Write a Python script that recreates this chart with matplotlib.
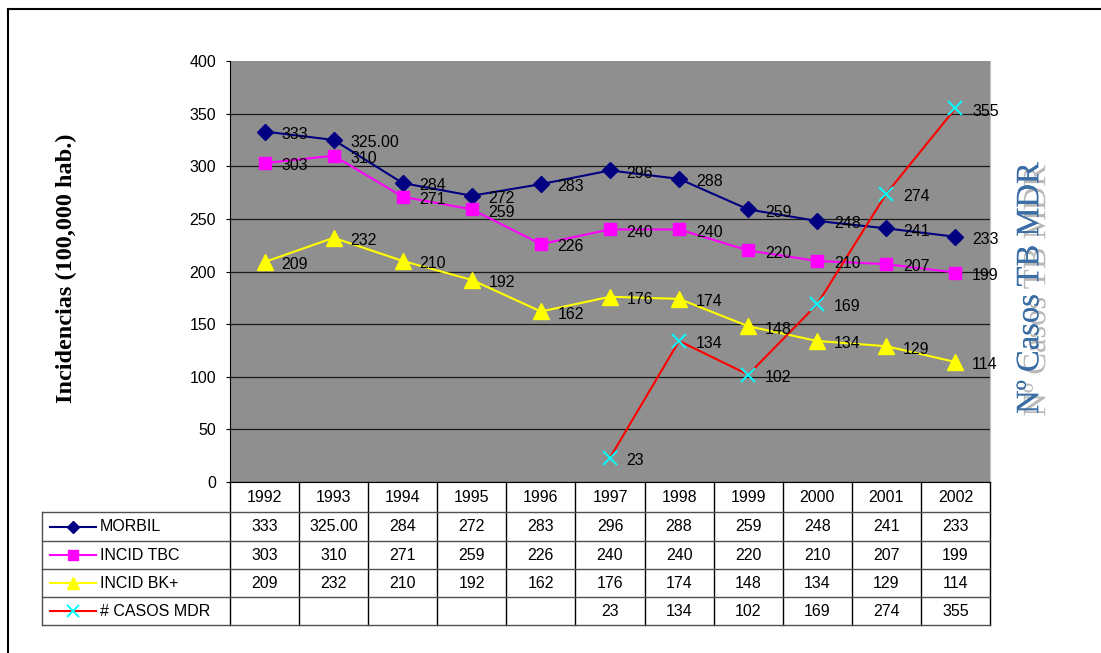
import matplotlib
matplotlib.use("Agg")
import matplotlib.pyplot as plt
import matplotlib.transforms as mtransforms
import matplotlib.patheffects as pe
from matplotlib.lines import Line2D

years = ["1992", "1993", "1994", "1995", "1996", "1997", "1998", "1999", "2000", "2001", "2002"]
morbil = [333, 325, 284, 272, 283, 296, 288, 259, 248, 241, 233]
morbil_txt = ["333", "325.00", "284", "272", "283", "296", "288", "259", "248", "241", "233"]
incid_tbc = [303, 310, 271, 259, 226, 240, 240, 220, 210, 207, 199]
incid_bk = [209, 232, 210, 192, 162, 176, 174, 148, 134, 129, 114]
casos_mdr = [None, None, None, None, None, 23, 134, 102, 169, 274, 355]
names = ["MORBIL", "INCID TBC", "INCID BK+", "# CASOS MDR"]

W, H = 1101, 653
fig = plt.figure(figsize=(W / 100, H / 100), dpi=100)
plt.rcParams['font.family'] = ['Liberation Sans', 'DejaVu Sans']
FS = 11.5

# plot area in pixels: x 230..990, y 61..482
ax = fig.add_axes([230 / W, 1 - 482 / H, 760 / W, 421 / H])
ax.set_facecolor('#8f8f8f')
ax.set_xlim(-0.5, len(years) - 0.5)
ax.set_ylim(0, 400)
ax.set_yticks(range(0, 401, 50))
ax.set_xticks([])
ax.yaxis.grid(True, color='#1a1a1a', lw=0.9)
ax.get_ygridlines()[-1].set_visible(False)
ax.set_axisbelow(True)
ax.tick_params(axis='y', labelsize=FS, length=3, pad=7)
ax.spines['top'].set_visible(False)
ax.spines['right'].set_color('#c0c0c0')
ax.spines['left'].set_color('black')
ax.spines['bottom'].set_color('black')

styles = [
    dict(color='#000080', marker='D', ms=8, mfc='#000080', mec='#000080'),
    dict(color='#ff00ff', marker='s', ms=9, mfc='#ff00ff', mec='#ff00ff'),
    dict(color='#ffff00', marker='^', ms=11, mfc='#ffff00', mec='#ffff00'),
    dict(color='#ff0000', marker='x', ms=10, mfc='#00ffff', mec='#00ffff', mew=1.4),
]
series = [morbil, incid_tbc, incid_bk, casos_mdr]
xs = list(range(len(years)))

for vals, st in zip(series, styles):
    px = [x for x, v in zip(xs, vals) if v is not None]
    py = [v for v in vals if v is not None]
    ax.plot(px, py, lw=1.5, zorder=3, **st)

# data labels
for k, vals in enumerate(series):
    for x, v in zip(xs, vals):
        if v is None:
            continue
        txt = morbil_txt[x] if k == 0 else str(v)
        ax.annotate(txt, (x, v), xytext=(12, -2), textcoords='offset points',
                    ha='left', va='center', fontsize=FS, color='black', zorder=4)

# data table under the plot
trans = mtransforms.blended_transform_factory(ax.transData, fig.transFigure)
def fy(p):
    return 1 - p / H
rows = [482, 512, 541, 569, 597, 625]
left_px = 42

for i in range(len(years) + 1):
    ax.plot([i - 0.5, i - 0.5], [fy(482), fy(625)], transform=trans, color='black',
            lw=1, clip_on=False)
for r in rows[1:]:
    fig.add_artist(Line2D([left_px / W, 990 / W], [fy(r), fy(r)], color='#505050', lw=1))
fig.add_artist(Line2D([left_px / W, left_px / W], [fy(512), fy(625)], color='#505050', lw=1))

for i, yr in enumerate(years):
    ax.text(i, fy((rows[0] + rows[1]) / 2), yr, transform=trans, ha='center', va='center',
            fontsize=FS)
for k, vals in enumerate(series):
    yc = fy((rows[k + 1] + rows[k + 2]) / 2)
    for x, v in zip(xs, vals):
        if v is None:
            continue
        txt = morbil_txt[x] if k == 0 else str(v)
        ax.text(x, yc, txt, transform=trans, ha='center', va='center', fontsize=FS)
    st = styles[k]
    fig.add_artist(Line2D([50 / W, 96 / W], [yc, yc], color=st['color'], lw=1.5))
    fig.add_artist(Line2D([73 / W], [yc], marker=st['marker'], ms=st['ms'] * 0.8,
                          mfc=st['mfc'], mec=st['mec'], mew=st.get('mew', 1), lw=0))
    fig.text(100 / W, yc, names[k], ha='left', va='center', fontsize=FS)

# axis titles
fig.text(66 / W, fy(268), "Incidencias (100,000 hab.)", rotation=90, ha='center', va='center',
         fontsize=17.5, fontweight='bold', family=['Liberation Serif', 'DejaVu Serif'])
fig.text(1030 / W, fy(288), "Nº Casos TB MDR", rotation=90, ha='center', va='center',
         fontsize=23.5, color='#3a6ea5', family=['Liberation Serif', 'DejaVu Serif'],
         path_effects=[pe.withSimplePatchShadow(offset=(5, -2), shadow_rgbFace='#b8b8b8', alpha=1),
                       pe.Normal()])

# chart frame (left and top edges)
fig.add_artist(Line2D([8 / W, 8 / W], [0, fy(9)], color='black', lw=1.5))
fig.add_artist(Line2D([8 / W, 1], [fy(9), fy(9)], color='black', lw=1.5))

fig.savefig("out.png", dpi=100)
